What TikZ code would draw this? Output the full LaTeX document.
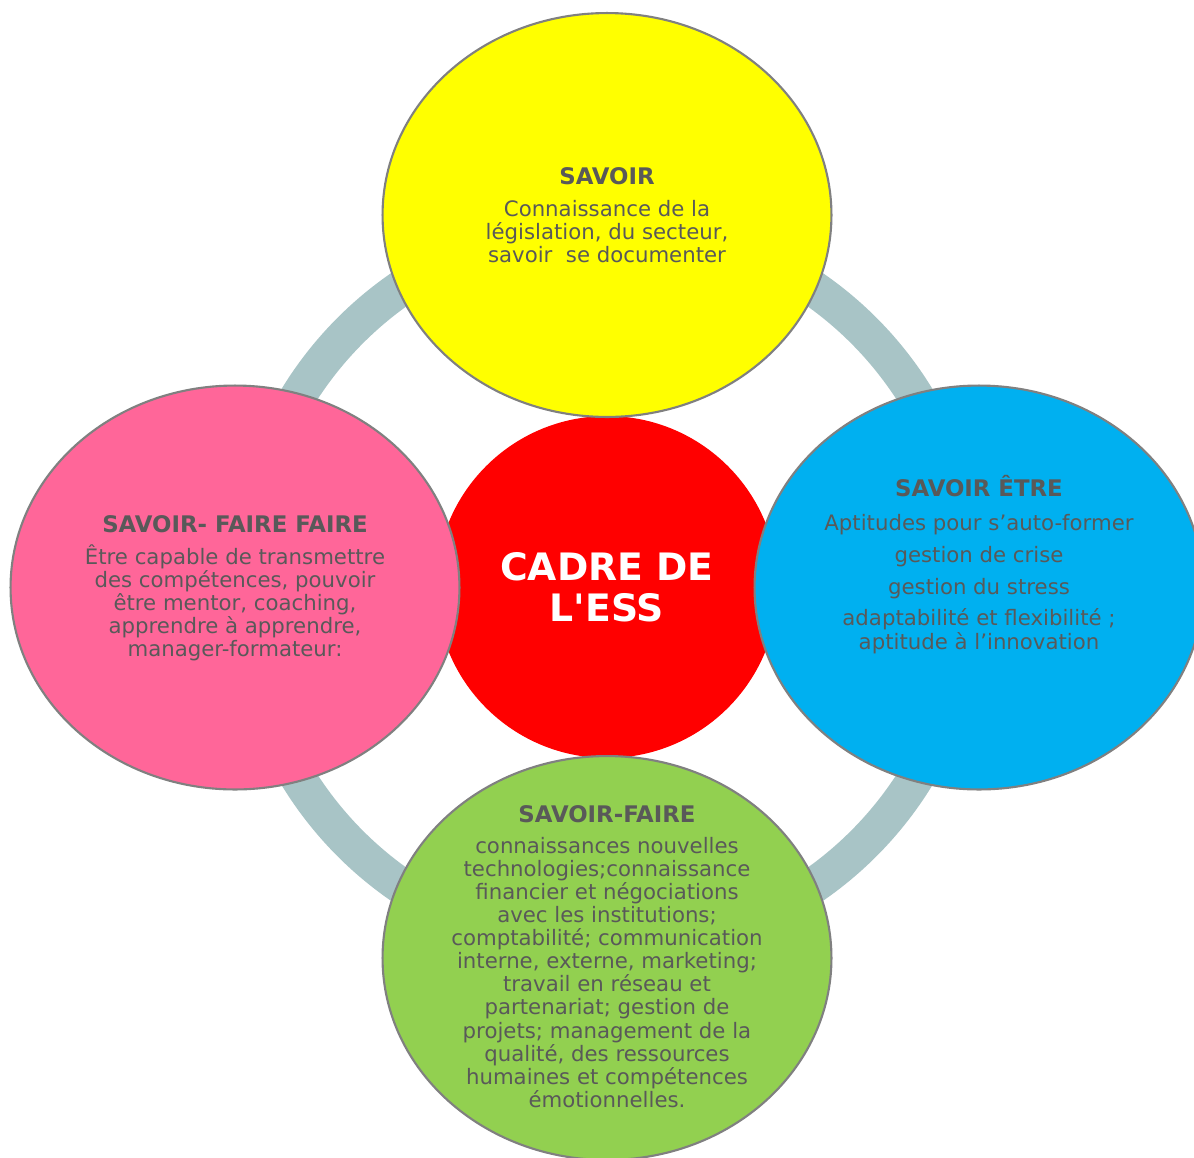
\documentclass[tikz,border=0pt]{standalone}
\usepackage{fontspec}
\setmainfont{DejaVu Sans}
\newfontfamily\cadrefont{DejaVu Sans}
\usetikzlibrary{shapes.geometric}
\definecolor{txt}{HTML}{595959}
\definecolor{ringc}{HTML}{A8C4C6}
\definecolor{bord}{HTML}{808080}
\definecolor{cyel}{HTML}{FFFF00}
\definecolor{cpink}{HTML}{FF6699}
\definecolor{cblue}{HTML}{00B0F0}
\definecolor{cgreen}{HTML}{92D050}
\definecolor{cred}{HTML}{FF0000}
\begin{document}
\begin{tikzpicture}[x=0.02cm,y=-0.02cm,
  bubble/.style={ellipse, draw=bord, line width=1.2pt, minimum width=8.98cm, minimum height=8.08cm, inner sep=0pt},
  ttl/.style={text=txt, font=\bfseries\fontsize{13}{15}\selectfont, anchor=base, inner sep=0pt},
  body/.style={text=txt, font=\fontsize{12.1}{13.15}\selectfont, align=center, anchor=base, inner sep=0pt}]
\path[use as bounding box] (0,0) rectangle (1194,1157);
\clip (0,0) rectangle (1194,1157);
\fill[white] (0,0) rectangle (1194,1157);
\coordinate (c) at (607,587);
\draw[ringc, line width=0.72cm] (c) circle [radius=7.26cm];
\node[circle, fill=cred, minimum size=6.84cm, inner sep=0pt, text=white, align=center,
  font=\cadrefont\bfseries\fontsize{21.5}{23.6}\selectfont] (cadre) at (c) {CADRE DE\\L'ESS};
\node[bubble, fill=cyel] (savoir) at (607,215) {};
\node[bubble, fill=cpink] (ff) at (235,587.5) {};
\node[bubble, fill=cblue] (etre) at (979,587.5) {};
\node[bubble, fill=cgreen] (faire) at (607,958) {};
% texts (body nodes anchored at the baseline of their last line)
\node[ttl] (t1) at (607,184) {SAVOIR};
\node[body] (b1) at (607,262.3) {Connaissance de la\\législation, du secteur,\\savoir \ se documenter};
\node[ttl] (t2) at (235,532.3) {SAVOIR- FAIRE FAIRE};
\node[body] (b2) at (235,656.7) {Être capable de transmettre\\des compétences, pouvoir\\être mentor, coaching,\\apprendre à apprendre,\\manager-formateur:};
\node[ttl] (t3) at (979,496.7) {SAVOIR ÊTRE};
\node[body] (b3) at (979,649) {Aptitudes pour s’auto-former\\[5pt]gestion de crise\\[5pt]gestion du stress\\[5pt]adaptabilité et flexibilité ;\\aptitude à l’innovation};
\node[ttl] (t4) at (607,822.7) {SAVOIR-FAIRE};
\node[body] (b4) at (607,1107.3) {connaissances nouvelles\\technologies;connaissance\\financier et négociations\\avec les institutions;\\comptabilité; communication\\interne, externe, marketing;\\travail en réseau et\\partenariat; gestion de\\projets; management de la\\qualité, des ressources\\humaines et compétences\\émotionnelles.};
\end{tikzpicture}
\end{document}
